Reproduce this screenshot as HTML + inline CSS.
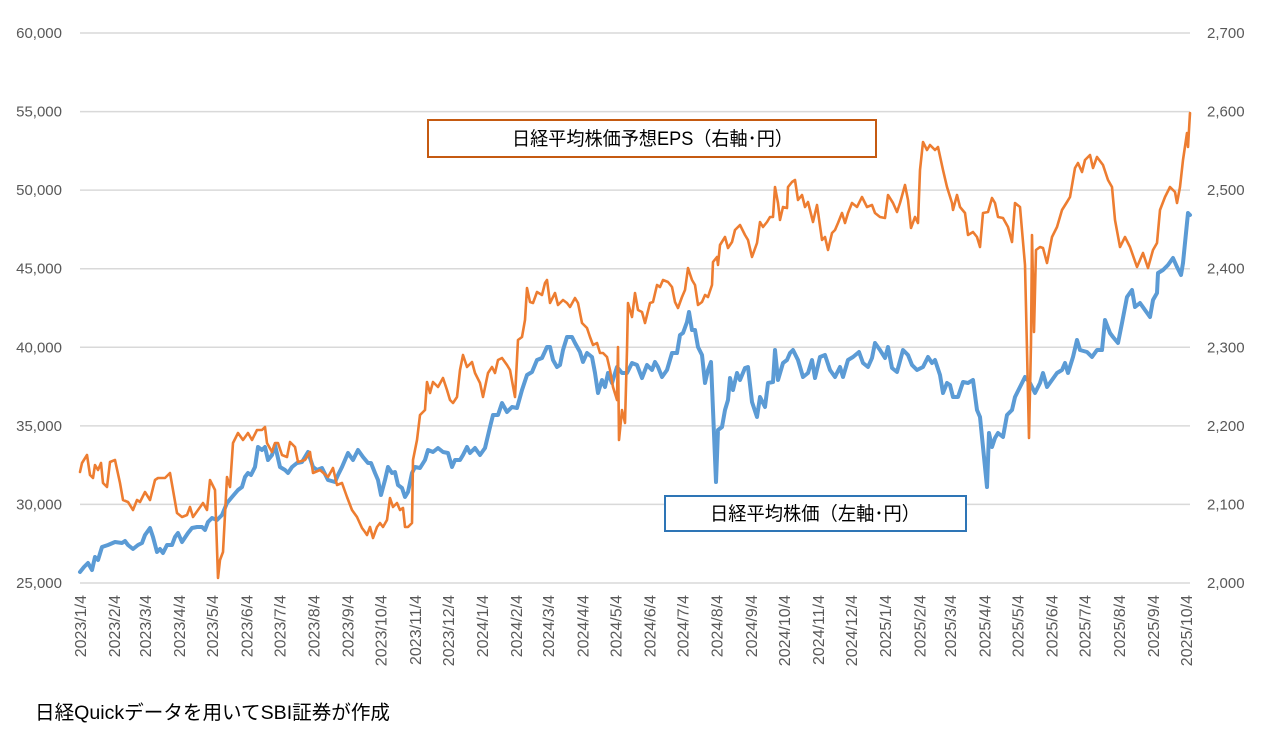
<!DOCTYPE html>
<html><head><meta charset="utf-8">
<style>
html,body{margin:0;padding:0;background:#fff;}
svg{display:block;}
text{font-family:"Liberation Sans","Noto Sans CJK JP",sans-serif;}
</style></head>
<body>
<svg width="1276" height="733" viewBox="0 0 1276 733" xmlns="http://www.w3.org/2000/svg">
<rect width="1276" height="733" fill="#fff"/>
<g stroke="#D9D9D9" stroke-width="1.5">
<line x1="80" y1="33" x2="1190" y2="33"/>
<line x1="80" y1="111.6" x2="1190" y2="111.6"/>
<line x1="80" y1="190.1" x2="1190" y2="190.1"/>
<line x1="80" y1="268.7" x2="1190" y2="268.7"/>
<line x1="80" y1="347.3" x2="1190" y2="347.3"/>
<line x1="80" y1="425.9" x2="1190" y2="425.9"/>
<line x1="80" y1="504.4" x2="1190" y2="504.4"/>
<line x1="80" y1="583" x2="1190" y2="583"/>
</g>
<g fill="#595959" font-size="15" text-anchor="end">
<text x="62" y="38">60,000</text>
<text x="62" y="116.6">55,000</text>
<text x="62" y="195.1">50,000</text>
<text x="62" y="273.7">45,000</text>
<text x="62" y="352.3">40,000</text>
<text x="62" y="430.9">35,000</text>
<text x="62" y="509.4">30,000</text>
<text x="62" y="588">25,000</text>
</g>
<g fill="#595959" font-size="15" text-anchor="start">
<text x="1207" y="38">2,700</text>
<text x="1207" y="116.6">2,600</text>
<text x="1207" y="195.1">2,500</text>
<text x="1207" y="273.7">2,400</text>
<text x="1207" y="352.3">2,300</text>
<text x="1207" y="430.9">2,200</text>
<text x="1207" y="509.4">2,100</text>
<text x="1207" y="588">2,000</text>
</g>
<g fill="#595959" font-size="16" text-anchor="end">
<text transform="translate(86,595) rotate(-90)">2023/1/4</text>
<text transform="translate(120.1,595) rotate(-90)">2023/2/4</text>
<text transform="translate(151,595) rotate(-90)">2023/3/4</text>
<text transform="translate(185.1,595) rotate(-90)">2023/4/4</text>
<text transform="translate(218.2,595) rotate(-90)">2023/5/4</text>
<text transform="translate(252.3,595) rotate(-90)">2023/6/4</text>
<text transform="translate(285.4,595) rotate(-90)">2023/7/4</text>
<text transform="translate(319.6,595) rotate(-90)">2023/8/4</text>
<text transform="translate(353.7,595) rotate(-90)">2023/9/4</text>
<text transform="translate(386.7,595) rotate(-90)">2023/10/4</text>
<text transform="translate(420.9,595) rotate(-90)">2023/11/4</text>
<text transform="translate(453.9,595) rotate(-90)">2023/12/4</text>
<text transform="translate(488.1,595) rotate(-90)">2024/1/4</text>
<text transform="translate(522.2,595) rotate(-90)">2024/2/4</text>
<text transform="translate(554.1,595) rotate(-90)">2024/3/4</text>
<text transform="translate(588.3,595) rotate(-90)">2024/4/4</text>
<text transform="translate(621.3,595) rotate(-90)">2024/5/4</text>
<text transform="translate(655.5,595) rotate(-90)">2024/6/4</text>
<text transform="translate(688.5,595) rotate(-90)">2024/7/4</text>
<text transform="translate(722.7,595) rotate(-90)">2024/8/4</text>
<text transform="translate(756.8,595) rotate(-90)">2024/9/4</text>
<text transform="translate(789.9,595) rotate(-90)">2024/10/4</text>
<text transform="translate(824,595) rotate(-90)">2024/11/4</text>
<text transform="translate(857.1,595) rotate(-90)">2024/12/4</text>
<text transform="translate(891.2,595) rotate(-90)">2025/1/4</text>
<text transform="translate(925.4,595) rotate(-90)">2025/2/4</text>
<text transform="translate(956.2,595) rotate(-90)">2025/3/4</text>
<text transform="translate(990.4,595) rotate(-90)">2025/4/4</text>
<text transform="translate(1023.4,595) rotate(-90)">2025/5/4</text>
<text transform="translate(1057.6,595) rotate(-90)">2025/6/4</text>
<text transform="translate(1090.6,595) rotate(-90)">2025/7/4</text>
<text transform="translate(1124.8,595) rotate(-90)">2025/8/4</text>
<text transform="translate(1158.9,595) rotate(-90)">2025/9/4</text>
<text transform="translate(1192,595) rotate(-90)">2025/10/4</text>
</g>
<polyline fill="none" stroke="#5B9BD5" stroke-width="4" stroke-linejoin="round" stroke-linecap="round" points="80,572 84,567 88,563 92,570 95,557 98,560 102,547 108,545 115,542 122,543 125,541 128,545 133,549 138,545 142,543 145,535 150,528 153,537 157,552 160,549 163,553 167,545 172,545 175,537 178,533 182,542 188,533 192,528 197,527 202,527 205,530 208,522 212,518 217,520 222,515 227,503 232,497 238,490 242,487 245,477 248,473 251,475 255,467 258,447 262,450 265,447 268,460 272,455 275,445 280,467 285,470 288,473 292,467 297,463 302,462 308,452 313,467 317,470 322,468 328,480 335,482 338,475 342,467 348,453 353,460 358,450 363,457 368,463 371,463 375,473 378,480 381,495 385,480 388,467 392,473 395,472 398,485 402,488 405,497 408,492 412,473 415,467 420,468 425,460 428,450 433,452 438,448 443,452 448,453 452,467 455,460 460,460 463,455 467,447 470,453 475,448 480,455 485,448 490,427 493,415 498,415 502,403 507,412 512,407 517,408 522,390 527,375 532,372 537,360 542,358 547,347 550,347 553,360 557,367 560,365 563,350 567,337 572,337 575,343 580,352 583,362 587,353 592,357 595,373 598,393 602,380 605,387 608,373 612,383 617,367 622,373 627,373 632,363 637,365 642,378 647,365 652,370 655,362 658,367 662,377 667,370 672,353 677,353 680,335 683,333 687,322 689,312 692,330 695,330 698,347 702,355 705,383 708,370 711,362 713,410 716,482 718,430 722,427 725,410 728,400 730,378 733,390 737,373 740,380 745,368 748,367 752,402 757,417 760,397 765,407 768,383 773,382 775,350 778,380 783,363 787,360 790,353 793,350 798,360 803,377 808,373 812,360 815,378 820,357 825,355 830,370 835,377 840,367 843,377 848,360 853,357 859,352 863,363 868,367 872,358 875,343 880,350 885,358 888,347 892,368 897,372 903,350 908,355 912,365 917,370 923,367 928,357 932,363 935,360 940,375 943,393 947,383 950,385 953,397 958,397 963,382 968,383 973,380 977,410 980,417 984,457 987,487 989,433 992,447 995,438 998,433 1003,437 1007,415 1012,410 1015,397 1020,387 1025,377 1030,383 1035,393 1040,383 1043,373 1047,387 1052,380 1057,373 1062,370 1065,363 1068,373 1073,357 1077,340 1080,350 1087,352 1092,357 1097,350 1102,350 1105,320 1110,333 1113,337 1118,343 1122,323 1127,297 1132,290 1135,307 1140,303 1145,310 1150,317 1153,300 1157,293 1158,273 1163,270 1168,265 1173,258 1177,267 1181,275 1183,263 1187,223 1188,213 1190,215"/>
<polyline fill="none" stroke="#ED7D31" stroke-width="2.6" stroke-linejoin="round" stroke-linecap="round" points="80,472 82,463 87,455 90,475 93,478 95,465 98,470 101,463 103,483 107,487 110,462 115,460 120,483 123,500 128,502 133,510 137,500 140,502 145,492 150,500 155,480 158,478 165,478 170,473 173,490 177,513 182,517 187,515 190,507 193,517 198,510 203,503 207,510 210,480 215,490 218,578 220,560 223,552 227,477 230,487 233,443 238,433 243,440 248,433 252,440 257,430 262,430 265,427 267,443 272,452 275,443 278,443 282,455 287,457 290,442 295,447 298,462 305,460 310,452 313,473 320,470 328,477 333,468 337,485 342,483 347,497 352,510 357,517 362,528 365,532 367,535 370,527 373,538 377,527 380,523 383,527 387,520 390,498 393,507 397,503 400,510 403,508 405,527 408,527 412,523 413,460 417,440 420,415 425,410 427,382 430,393 433,382 438,387 443,378 447,390 450,400 453,403 457,397 460,370 463,355 467,367 472,362 475,373 480,383 483,397 488,373 492,367 495,373 498,360 502,358 507,365 510,370 515,397 518,340 522,337 525,320 527,288 530,302 533,303 537,292 542,295 545,283 547,280 550,303 555,293 558,305 563,300 567,303 570,307 575,298 578,303 582,323 587,328 590,337 593,345 597,343 600,353 603,353 607,357 610,370 613,387 617,400 618,347 619,440 622,410 625,423 627,350 628,303 632,317 635,293 638,310 642,312 645,323 650,303 653,302 657,285 660,287 663,280 668,282 672,287 675,302 678,308 682,297 685,290 688,268 692,280 695,285 698,305 702,302 705,295 708,297 712,285 713,262 717,257 718,265 720,245 725,237 728,248 732,242 735,230 740,225 745,235 748,240 752,257 757,243 760,222 763,227 767,222 770,217 773,217 775,187 778,203 780,220 783,207 787,208 788,187 792,182 795,180 798,200 802,195 805,207 808,202 813,222 817,205 822,240 825,237 828,250 832,233 835,230 838,223 842,213 845,223 848,213 852,203 857,207 862,197 867,207 872,205 875,213 880,217 885,218 888,195 893,203 897,212 900,203 905,185 908,200 911,228 915,217 918,223 920,170 923,142 927,150 930,145 935,150 938,147 943,170 947,187 952,203 953,210 957,195 960,207 965,213 968,235 973,232 977,237 980,247 983,213 988,212 992,198 995,203 998,217 1003,218 1008,227 1012,242 1015,203 1020,207 1025,265 1027,350 1029,438 1031,343 1032,235 1034,332 1036,250 1040,247 1043,248 1047,263 1052,237 1057,227 1062,210 1067,202 1070,197 1075,168 1078,163 1082,172 1085,160 1090,155 1093,168 1097,157 1103,165 1108,180 1112,187 1115,220 1120,247 1125,237 1130,247 1137,267 1143,253 1148,268 1153,250 1157,243 1160,210 1165,197 1170,187 1175,192 1177,203 1180,187 1183,160 1187,133 1188,147 1190,113"/>
<rect x="428" y="120" width="448" height="37" fill="#fff" stroke="#C55A11" stroke-width="2"/>
<text x="512" y="145" font-size="19" fill="#000" textLength="281" lengthAdjust="spacingAndGlyphs">日経平均株価予想EPS（右軸･円）</text>
<rect x="665" y="496" width="301" height="35" fill="#fff" stroke="#2E75B6" stroke-width="2"/>
<text x="710" y="520" font-size="19" fill="#000" textLength="210" lengthAdjust="spacingAndGlyphs">日経平均株価（左軸･円）</text>
<text x="35" y="719" font-size="19.5" fill="#000" textLength="355" lengthAdjust="spacingAndGlyphs">日経Quickデータを用いてSBI証券が作成</text>
</svg>
</body></html>
